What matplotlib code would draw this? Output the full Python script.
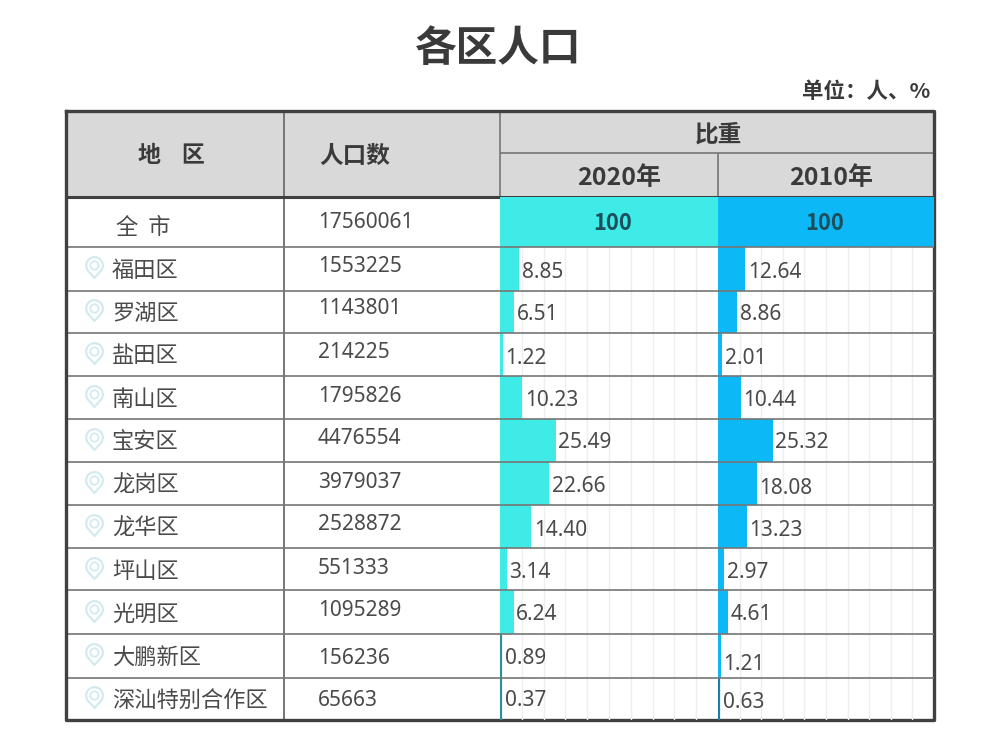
import numpy as np
from matplotlib import pyplot as plt
from matplotlib.path import Path

plt.rcParams["font.family"] = ["Noto Sans CJK SC", "DejaVu Sans"]
digit_font = ["Noto Sans", "Noto Sans CJK SC"]

# Data
districts = ["全 市", "福田区", "罗湖区", "盐田区", "南山区", "宝安区", "龙岗区",
             "龙华区", "坪山区", "光明区", "大鹏新区", "深汕特别合作区"]
population = [17560061, 1553225, 1143801, 214225, 1795826, 4476554, 3979037,
              2528872, 551333, 1095289, 156236, 65663]
share_2020 = [100, 8.85, 6.51, 1.22, 10.23, 25.49, 22.66, 14.40, 3.14, 6.24, 0.89, 0.37]
share_2010 = [100, 12.64, 8.86, 2.01, 10.44, 25.32, 18.08, 13.23, 2.97, 4.61, 1.21, 0.63]
labels_2020 = ["100", "8.85", "6.51", "1.22", "10.23", "25.49", "22.66", "14.40", "3.14", "6.24", "0.89", "0.37"]
labels_2010 = ["100", "12.64", "8.86", "2.01", "10.44", "25.32", "18.08", "13.23", "2.97", "4.61", "1.21", "0.63"]

# Layout in pixels of the 1000x736 image
W, H = 1000, 736
left, right, top, bottom = 66, 934, 111, 720
col_x = [284, 500, 718]
row_edges = [197, 247, 291, 333, 376, 419, 462, 505, 548, 590, 634, 678, 720]
name_y = [228, 270, 313, 356, 399, 442, 485, 528, 571, 614, 657, 700]
pop_y = [223, 266, 309, 353, 396, 439, 482, 525, 568, 611, 659, 701]
label_y_2020 = [224, 272, 314, 358, 401, 443, 487, 530, 572, 614, 658, 701]
label_y_2010 = [223, 273, 314, 358, 401, 443, 488, 530, 573, 614, 665, 703]

text_color = "#4a4a4a"
head_color = "#3a3a3a"
line_color = "#767676"
frame_color = "#404040"
teal = "#3eebe6"
blue = "#0cb8f5"
pin_color = "#d3ebf0"

fig = plt.figure(figsize=(W / 100, H / 100), dpi=100)
ax = fig.add_axes([0, 0, 1, 1])
ax.set_xlim(0, W)
ax.set_ylim(H, 0)
ax.axis("off")

# Header background
ax.fill_between([left, right], top, row_edges[0], color="#d9d9d9", lw=0, zorder=0)


def add_bars(x0, x1, values, labels, label_y, color, axis_color, total_x):
    bar_ax = fig.add_axes([x0 / W, 1 - bottom / H, (x1 - x0) / W, (bottom - row_edges[0]) / H])
    bar_ax.set_xlim(0, 100)
    bar_ax.set_ylim(bottom, row_edges[0])
    bar_ax.patch.set_alpha(0)
    for spine in bar_ax.spines.values():
        spine.set_visible(False)
    bar_ax.set_yticks([])
    bar_ax.set_xticks(np.arange(10, 100, 10))
    bar_ax.tick_params(length=0, labelbottom=False)
    bar_ax.grid(axis="x", color="#eeeeee", lw=1)
    bar_ax.set_axisbelow(True)
    edges = np.array(row_edges)
    bar_ax.barh((edges[:-1] + edges[1:]) / 2, values, height=np.diff(edges), color=color, lw=0, zorder=2)
    for i, (v, lab, y) in enumerate(zip(values, labels, label_y)):
        if i == 0:
            bar_ax.text(total_x, y, lab, ha="center", va="center", fontsize=15.8,
                        fontweight="bold", color="#1d4e5c", zorder=4)
        else:
            bar_ax.text(max(v, 1.0) + 1.2, y, lab, ha="left", va="center", fontsize=15,
                        color=text_color, family=digit_font, zorder=4)
            # very thin bars read as a dark edge in the reference
            if v < 1:
                bar_ax.vlines(0.3, edges[i], edges[i + 1], color=axis_color, lw=1.6, zorder=3)
    for y in row_edges[1:-1]:
        bar_ax.axhline(y, color=line_color, lw=1.2, zorder=3)


add_bars(col_x[1], col_x[2], share_2020, labels_2020, label_y_2020, teal, "#2a8f98", 51.5)
add_bars(col_x[2], right, share_2010, labels_2010, label_y_2010, blue, "#1a7fa8", 49.5)

# Table lines
ax.hlines(row_edges[1:-1], left, col_x[1], color=line_color, lw=1.2)
ax.hlines(153, col_x[1], right, color=line_color, lw=1.2)
ax.vlines(col_x[0], top, bottom, color=line_color, lw=1.4)
ax.vlines(col_x[1], top, row_edges[0], color=line_color, lw=1.2)
ax.vlines(col_x[2], 153, row_edges[0], color=line_color, lw=1.2)
ax.hlines(row_edges[0], left, right, color=frame_color, lw=2.2, zorder=5)
ax.plot([left, right, right, left, left], [top, top, bottom, bottom, top], color=frame_color, lw=2.4, zorder=5)

# Title and header text
ax.text(498, 49, "各区人口", ha="center", va="center", fontsize=30, fontweight="bold", color=head_color)
ax.text(930, 92, "单位：人、%", ha="right", va="center", fontsize=15.5, fontweight="bold", color=head_color)
ax.text(171, 156, "地    区", ha="center", va="center", fontsize=16.5, fontweight="bold", color=head_color)
ax.text(355, 156, "人口数", ha="center", va="center", fontsize=17, fontweight="bold", color=head_color)
ax.text(718, 135, "比重", ha="center", va="center", fontsize=17, fontweight="bold", color=head_color)
ax.text(619, 178, "2020年", ha="center", va="center", fontsize=18, fontweight="bold", color=head_color)
ax.text(831, 178, "2010年", ha="center", va="center", fontsize=18, fontweight="bold", color=head_color)

# Pin icon, tip pointing down
t = np.linspace(-0.6, np.pi + 0.6, 30)
pin_verts = [(np.cos(a), np.sin(a)) for a in t] + [(0, -1.5)]
pin_verts.append(pin_verts[0])
pin = Path(pin_verts, closed=True)

# Region names and population
for i, (name, pop) in enumerate(zip(districts, population)):
    if i == 0:
        ax.text(143, name_y[i], "全  市", ha="center", va="center", fontsize=16, color=text_color)
    else:
        ax.text(112, name_y[i], name, ha="left", va="center", fontsize=16, color=text_color)
        ax.plot(94, name_y[i] - 5, marker=pin, ms=18, mfc="none", mec=pin_color, mew=1.6)
        ax.plot(94, name_y[i] - 5, marker="o", ms=6, mfc="none", mec=pin_color, mew=1.3)
    ax.text(318, pop_y[i], str(pop), ha="left", va="center", fontsize=15, color=text_color, family=digit_font)

fig.savefig("out.png", dpi=100)
